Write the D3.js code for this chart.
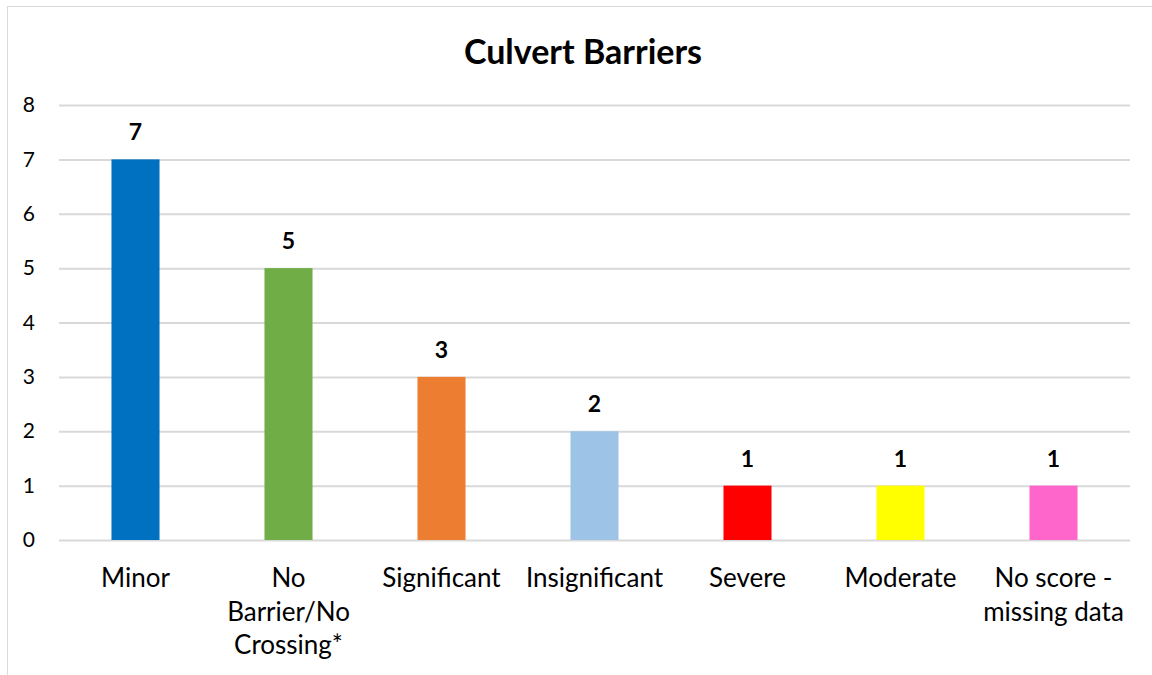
<!DOCTYPE html>
<html><head><meta charset="utf-8">
<script src="https://cdn.jsdelivr.net/npm/d3@7"></script>
<style>body{margin:0;background:#fff}svg{display:block}text{font-family:Lato,"Open Sans",sans-serif;fill:#000}</style>
</head><body><svg id="c" width="1152" height="675"></svg>
<script>
const categories = ["Minor","No Barrier/No Crossing*","Significant","Insignificant","Severe","Moderate","No score - missing data"];
const categoryLines = [["Minor"],["No","Barrier/No","Crossing*"],["Significant"],["Insignificant"],["Severe"],["Moderate"],["No score -","missing data"]];
const values = [7,5,3,2,1,1,1];
const colors = ["#0070C0","#70AD47","#ED7D31","#9DC3E6","#FF0000","#FFFF00","#FF66CC"];
const yTicks = [0,1,2,3,4,5,6,7,8];
const title = "Culvert Barriers";

const svg = d3.select("#c");
svg.append("rect").attr("x",7.5).attr("y",6.5).attr("width",1160).attr("height",700)
  .attr("fill","#fff").attr("stroke","#d9d9d9").attr("stroke-width",1);

const x = d3.scaleBand().domain(categories).range([59,1130]).paddingInner(0.686).paddingOuter(0.343);
const y = d3.scaleLinear().domain([0,8]).range([540,105]);

svg.append("text").attr("x",583).attr("y",64).attr("text-anchor","middle")
  .style("font-size","34px").style("font-weight","bold").text(title);

const yAxis = svg.append("g").attr("transform","translate(59,0)")
  .call(d3.axisLeft(y).tickValues(yTicks).tickSize(-1071).tickPadding(24));
yAxis.select(".domain").remove();
yAxis.selectAll(".tick line").attr("stroke","#d9d9d9").attr("stroke-width",2);
yAxis.selectAll(".tick text").style("font-size","21px").attr("fill","#000");

svg.append("g").selectAll("rect").data(values).join("rect")
  .attr("x",(d,i)=>x(categories[i])).attr("width",x.bandwidth())
  .attr("y",d=>y(d)).attr("height",d=>y(0)-y(d)).attr("fill",(d,i)=>colors[i]);

svg.append("g").selectAll("text").data(values).join("text")
  .attr("x",(d,i)=>x(categories[i])+x.bandwidth()/2).attr("y",d=>y(d)-19)
  .attr("text-anchor","middle").style("font-size","23px").style("font-weight","bold").text(d=>d);

const lab = svg.append("g").selectAll("text").data(categories).join("text")
  .attr("x",d=>x(d)+x.bandwidth()/2).attr("y",587).attr("text-anchor","middle").style("font-size","26px");
lab.each(function(d,i){
  const t=d3.select(this);
  categoryLines[i].forEach((l,j)=>t.append("tspan").attr("x",x(d)+x.bandwidth()/2).attr("dy",j?33.5:0).text(l));
});
</script></body></html>
